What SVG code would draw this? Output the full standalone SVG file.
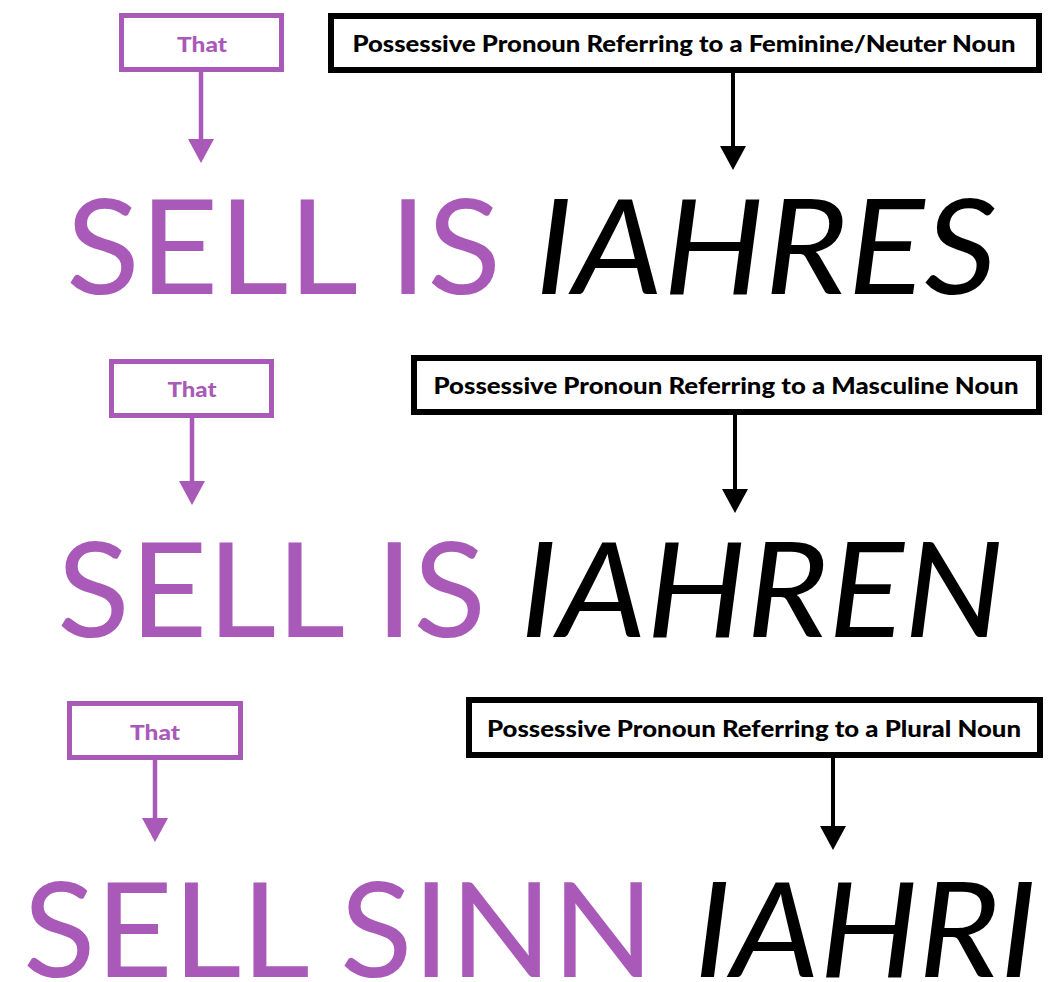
<svg xmlns="http://www.w3.org/2000/svg" width="1051" height="982" viewBox="0 0 1051 982">
<style>
.bg{fill:#ffffff}
.pbox{fill:#ffffff;stroke:#A95AB8;stroke-width:5}
.kbox{fill:#ffffff;stroke:#000000;stroke-width:6}
.plab{font-family:Lato,"Liberation Sans",sans-serif;font-weight:900;font-size:21px;fill:#A95AB8;text-anchor:middle}
.klab{font-family:Lato,"Liberation Sans",sans-serif;font-weight:900;font-size:23px;fill:#000000;text-anchor:middle}
.big{font-family:Lato,"Liberation Sans",sans-serif;font-weight:400;font-size:132px}
.pbig{fill:#A95AB8}
.kbig{fill:#000000;font-style:italic}
.pline{stroke:#A95AB8;stroke-width:4.5;fill:none}
.kline{stroke:#000000;stroke-width:4;fill:none}
</style>
<defs>
<marker id="ap" viewBox="0 0 24 26" refX="20" refY="13" markerWidth="24" markerHeight="26" markerUnits="userSpaceOnUse" orient="auto">
<path d="M0,0 L24,13 L0,26 Z" fill="#A95AB8"/>
</marker>
<marker id="ak" viewBox="0 0 24 26" refX="20" refY="13" markerWidth="24" markerHeight="26" markerUnits="userSpaceOnUse" orient="auto">
<path d="M0,0 L24,13 L0,26 Z" fill="#000000"/>
</marker>
</defs>
<rect class="bg" x="0" y="0" width="1051" height="982"/>

<g id="connectors">
<line class="pline" x1="201" y1="72" x2="201" y2="159" marker-end="url(#ap)"/>
<line class="kline" x1="733" y1="73" x2="733" y2="166" marker-end="url(#ak)"/>
<line class="pline" x1="192" y1="417" x2="192" y2="501" marker-end="url(#ap)"/>
<line class="kline" x1="735" y1="415" x2="735" y2="509" marker-end="url(#ak)"/>
<line class="pline" x1="155" y1="760" x2="155" y2="838" marker-end="url(#ap)"/>
<line class="kline" x1="833" y1="758" x2="833" y2="846" marker-end="url(#ak)"/>
</g>

<g id="that1">
<rect class="pbox" x="121.5" y="15.5" width="160" height="54"/>
<text class="plab" x="202" y="52" textLength="50" lengthAdjust="spacingAndGlyphs">That</text>
</g>
<g id="label1">
<rect class="kbox" x="331" y="16" width="708" height="54"/>
<text class="klab" x="684" y="52" textLength="663" lengthAdjust="spacingAndGlyphs">Possessive Pronoun Referring to a Feminine/Neuter Noun</text>
</g>
<g id="phrase1">
<text class="big pbig" x="66" y="294" textLength="435" lengthAdjust="spacingAndGlyphs">SELL IS</text>
<text class="big kbig" x="535" y="294" textLength="462" lengthAdjust="spacingAndGlyphs">IAHRES</text>
</g>

<g id="that2">
<rect class="pbox" x="111.5" y="361.5" width="160" height="54"/>
<text class="plab" x="192" y="397" textLength="49" lengthAdjust="spacingAndGlyphs">That</text>
</g>
<g id="label2">
<rect class="kbox" x="414" y="358" width="625" height="54"/>
<text class="klab" x="726" y="394" textLength="585" lengthAdjust="spacingAndGlyphs">Possessive Pronoun Referring to a Masculine Noun</text>
</g>
<g id="phrase2">
<text class="big pbig" x="57" y="637" textLength="429" lengthAdjust="spacingAndGlyphs">SELL IS</text>
<text class="big kbig" x="520" y="637" textLength="484" lengthAdjust="spacingAndGlyphs">IAHREN</text>
</g>

<g id="that3">
<rect class="pbox" x="69.5" y="703.5" width="171" height="54"/>
<text class="plab" x="155" y="740" textLength="50" lengthAdjust="spacingAndGlyphs">That</text>
</g>
<g id="label3">
<rect class="kbox" x="469" y="700" width="571" height="55"/>
<text class="klab" x="754" y="737" textLength="534" lengthAdjust="spacingAndGlyphs">Possessive Pronoun Referring to a Plural Noun</text>
</g>
<g id="phrase3">
<text class="big pbig" x="23" y="977" textLength="631" lengthAdjust="spacingAndGlyphs">SELL SINN</text>
<text class="big kbig" x="694" y="977" textLength="343" lengthAdjust="spacingAndGlyphs">IAHRI</text>
</g>
</svg>
